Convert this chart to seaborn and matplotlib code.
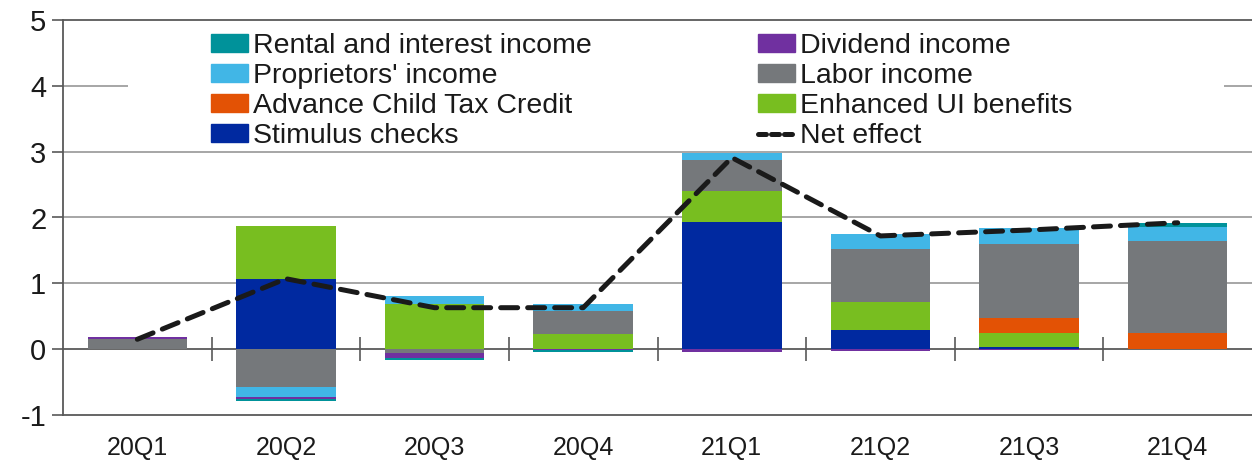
import numpy as np
import pandas as pd
import matplotlib
matplotlib.use("Agg")
import matplotlib.pyplot as plt
from matplotlib.patches import Patch, Rectangle
from matplotlib.lines import Line2D
import seaborn as sns

# Quarterly contributions to disposable income growth (percentage points)
quarters = ["20Q1", "20Q2", "20Q3", "20Q4", "21Q1", "21Q2", "21Q3", "21Q4"]
stimulus_checks = [0.00, 1.07, 0.00, 0.00, 1.93, 0.29, 0.03, 0.00]
enhanced_ui = [0.00, 0.80, 0.68, 0.23, 0.48, 0.43, 0.22, 0.01]
child_tax_credit = [0.00, 0.00, 0.00, 0.00, 0.00, 0.00, 0.22, 0.24]
labor_income = [0.16, -0.57, -0.06, 0.35, 0.47, 0.80, 1.12, 1.39]
proprietors_income = [0.00, -0.16, 0.13, 0.11, 0.10, 0.23, 0.25, 0.22]
dividend_income = [0.02, -0.02, -0.07, -0.02, -0.05, -0.03, -0.01, 0.00]
rental_interest = [0.00, -0.03, -0.04, -0.02, 0.00, 0.00, 0.00, 0.05]
net_effect = [0.15, 1.07, 0.63, 0.63, 2.91, 1.72, 1.81, 1.92]

# stacking order from the zero line outward
series = [
    ("Stimulus checks", stimulus_checks, "#0029A0"),
    ("Enhanced UI benefits", enhanced_ui, "#78BE20"),
    ("Advance Child Tax Credit", child_tax_credit, "#E35205"),
    ("Labor income", labor_income, "#75787B"),
    ("Proprietors' income", proprietors_income, "#41B6E6"),
    ("Dividend income", dividend_income, "#7030A0"),
    ("Rental and interest income", rental_interest, "#00929A"),
]

sns.set_theme(style="white")
plt.rcParams["font.family"] = ["Liberation Sans", "DejaVu Sans"]
LEG_FS = 20.5

fig = plt.figure(figsize=(12.52, 4.61), dpi=100)
ax = fig.add_axes([63 / 1252, 1 - 415 / 461, 1189 / 1252, 395 / 461])

pos_base = np.zeros(len(quarters))
neg_base = np.zeros(len(quarters))
for name, vals, color in series:
    v = np.asarray(vals, dtype=float)
    bottom = np.where(v >= 0, pos_base, neg_base)
    df = pd.DataFrame({"quarter": quarters, "value": v})
    sns.barplot(data=df, x="quarter", y="value", order=quarters, color=color,
                saturation=1, width=0.67, bottom=bottom, linewidth=0,
                errorbar=None, ax=ax, zorder=3)
    pos_base = pos_base + np.where(v > 0, v, 0)
    neg_base = neg_base + np.where(v < 0, v, 0)

net_df = pd.DataFrame({"quarter": quarters, "value": net_effect})
sns.lineplot(data=net_df, x="quarter", y="value", color="#1a1a1a", lw=3.6,
             ax=ax, zorder=5, sort=False)
ax.lines[-1].set_dashes([3.4, 2.0])
ax.lines[-1].set_dash_capstyle("round")

# axes styling
ax.set_xlim(-0.5, len(quarters) - 0.5)
ax.set_ylim(-1, 5)
ax.set_yticks(range(-1, 6))
ax.set_yticklabels([str(t) for t in range(-1, 6)], fontsize=21, color="#1a1a1a")
ax.set_xlabel("")
ax.set_ylabel("")
ax.tick_params(axis="x", length=0, pad=15, labelsize=18, labelcolor="#1a1a1a")
ax.tick_params(axis="y", left=True, length=8, width=1.2, color="#595959", pad=4)
for t in [1, 2, 3, 4]:
    ax.axhline(t, color="#A6A6A6", lw=1.4, zorder=1)
for side in ["left", "bottom", "top"]:
    ax.spines[side].set_color("#595959")
    ax.spines[side].set_linewidth(1.3)
ax.spines["right"].set_visible(False)

# zero line with category separators crossing it
zero_axis = ax.secondary_xaxis(1 / 6)
zero_axis.set_xticks(np.arange(0.5, len(quarters) - 0.5, 1.0))
zero_axis.set_xticklabels([])
zero_axis.tick_params(direction="inout", length=17, width=1.2, color="#595959")
zero_axis.spines["bottom"].set_color("#595959")
zero_axis.spines["bottom"].set_linewidth(1.3)
zero_axis.spines["bottom"].set_zorder(4)

# white panel behind the legend
ax.add_patch(Rectangle((0.0547, 3.08), 0.9218, 1.92, transform=ax.get_yaxis_transform(),
                       facecolor="white", edgecolor="none", zorder=2))
ax.spines["top"].set_zorder(6)

handles = [
    Patch(color="#00929A", label="Rental and interest income"),
    Patch(color="#41B6E6", label="Proprietors' income"),
    Patch(color="#E35205", label="Advance Child Tax Credit"),
    Patch(color="#0029A0", label="Stimulus checks"),
    Patch(color="#7030A0", label="Dividend income"),
    Patch(color="#75787B", label="Labor income"),
    Patch(color="#78BE20", label="Enhanced UI benefits"),
    Line2D([], [], color="#1a1a1a", lw=3.6, dashes=[1.6, 1.0], dash_capstyle="round",
           label="Net effect"),
]
leg = ax.legend(handles=handles, ncol=2, loc="upper left",
                bbox_to_anchor=(0.1245, 0.967), frameon=False, fontsize=LEG_FS,
                handlelength=1.3, handleheight=0.6, handletextpad=0.18,
                labelspacing=0.145, columnspacing=5.82, borderpad=0, borderaxespad=0)
for txt in leg.get_texts():
    txt.set_color("#1a1a1a")
leg.set_zorder(7)

fig.savefig("out.png", dpi=100)
